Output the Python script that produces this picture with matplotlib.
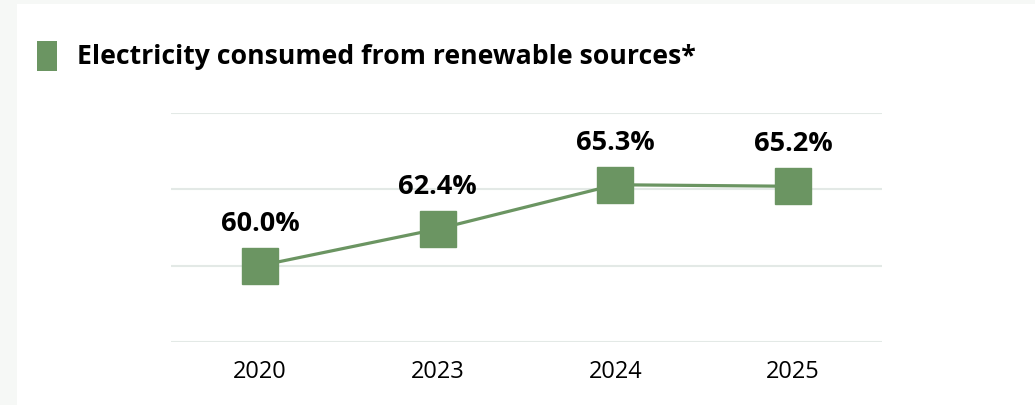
import matplotlib
matplotlib.use("Agg")
import matplotlib.pyplot as plt
from matplotlib.patches import Rectangle

# data
years  = ["2020", "2023", "2024", "2025"]
shares = [60.0, 62.4, 65.3, 65.2]
labels = ["60.0%", "62.4%", "65.3%", "65.2%"]

GREEN = "#6b9562"
GRID  = "#e3e9e6"
BG    = "#f6f8f6"

plt.rcParams["font.family"] = ["Open Sans", "DejaVu Sans"]

W, H = 1035, 406
fig = plt.figure(figsize=(W/100, H/100), dpi=100)
fig.patch.set_facecolor(BG)

# white panel (behind everything)
fig.patches.append(Rectangle((17/W, 0), 1, 1 - 5/H, transform=fig.transFigure,
                             facecolor="white", edgecolor="none", zorder=-10))

# title with square marker
fig.patches.append(Rectangle((37/W, 1 - 72/H), 20/W, 30/H, transform=fig.transFigure,
                             facecolor=GREEN, edgecolor="none", zorder=1))
fig.text(77/W, 1 - 57/H, "Electricity consumed from renewable sources*",
         fontsize=19.2, fontweight="bold", va="center", ha="left", color="#000000")

ax = fig.add_axes([171/W, 63/H, (882-171)/W, (343-114)/H])
ax.set_facecolor("none")
ax.set_zorder(2)
x = range(len(years))
ax.plot(x, shares, color=GREEN, lw=2.3, marker="s", ms=26, mec=GREEN, mfc=GREEN, zorder=3)
for xi, v, t in zip(x, shares, labels):
    ax.annotate(t, (xi, v), xytext=(0, 31), textcoords="offset points",
                ha="center", va="center", fontsize=19.5, fontweight="bold")

ax.set_xlim(-0.5, 3.5)
ax.set_ylim(55, 70)
ax.set_yticks([55, 60, 65, 70])
ax.yaxis.grid(True, color=GRID, lw=1.5)
ax.set_axisbelow(True)
ax.tick_params(axis="y", left=False, labelleft=False)
ax.tick_params(axis="x", bottom=False, labelsize=17, pad=9)
ax.set_xticks(list(x))
ax.set_xticklabels(years, fontweight="medium")
for s in ax.spines.values():
    s.set_visible(False)

fig.savefig("out.png", dpi=100, facecolor=fig.get_facecolor())
